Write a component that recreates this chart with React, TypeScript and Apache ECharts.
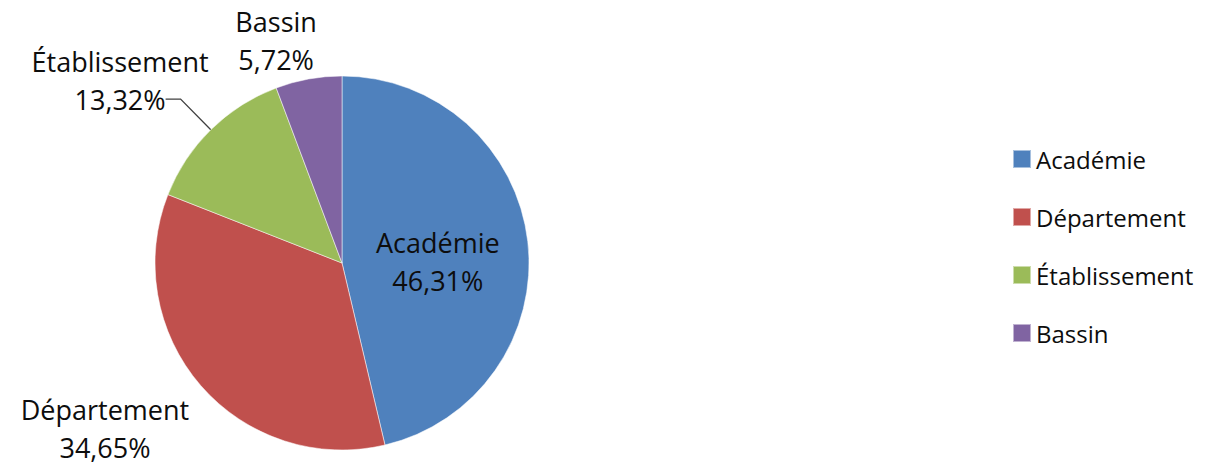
import React, { useEffect, useRef } from "react";
import * as echarts from "echarts";

const categories = ["Académie", "Département", "Établissement", "Bassin"];
const shares = [46.31, 34.65, 13.32, 5.72];
const sliceColors = ["#4F81BD", "#C0504D", "#9BBB59", "#8064A2"];

// label placement tweaks (offset of each label's centre from ECharts' default)
const labelShift: number[][] = [
  [0, 10],
  [41, 15],
  [48, -19],
  [36, 4],
];

const FONT = "'Open Sans', 'Noto Sans', sans-serif";

export default function App() {
  const ref = useRef<HTMLDivElement>(null);

  useEffect(() => {
    document.body.style.margin = "0";
    if (!ref.current) return;
    const chart = echarts.init(ref.current, null, { renderer: "svg" });

    const data = categories.map((name, i) => ({
      name,
      value: shares[i],
      itemStyle: { color: sliceColors[i] },
      label: i === 0 ? { position: "inside" } : { position: "outside" },
      labelLine: { show: i === 2 },
    }));

    chart.setOption({
      animation: false,
      backgroundColor: "#ffffff",
      legend: {
        orient: "vertical",
        left: 1007,
        top: 142,
        itemWidth: 18,
        itemHeight: 18,
        itemGap: 34,
        icon: "rect",
        data: categories,
        textStyle: { fontFamily: FONT, fontSize: 24, color: "#0d0d0d" },
      },
      series: [
        {
          type: "pie",
          center: [342, 263],
          radius: [0, 187],
          startAngle: 90,
          clockwise: true,
          avoidLabelOverlap: false,
          data,
          itemStyle: { borderColor: "rgba(255,255,255,0.5)", borderWidth: 1 },
          label: {
            show: true,
            fontFamily: FONT,
            fontSize: 27,
            lineHeight: 38,
            color: "#0d0d0d",
            formatter: (p: any) =>
              p.name + "\n" + p.value.toFixed(2).replace(".", ",") + "%",
          },
          labelLine: {
            length: 43,
            length2: 15,
            lineStyle: { color: "#404040", width: 1.3 },
          },
          labelLayout: (params: any) => {
            const r = params.labelRect;
            const s = labelShift[params.dataIndex] || [0, 0];
            return {
              x: r.x + r.width / 2 + s[0],
              y: r.y + r.height / 2 + s[1],
              align: "center",
              verticalAlign: "middle",
              labelLinePoints: params.labelLinePoints,
            };
          },
        },
      ],
    });

    return () => chart.dispose();
  }, []);

  return <div ref={ref} style={{ width: 1228, height: 467 }} />;
}
